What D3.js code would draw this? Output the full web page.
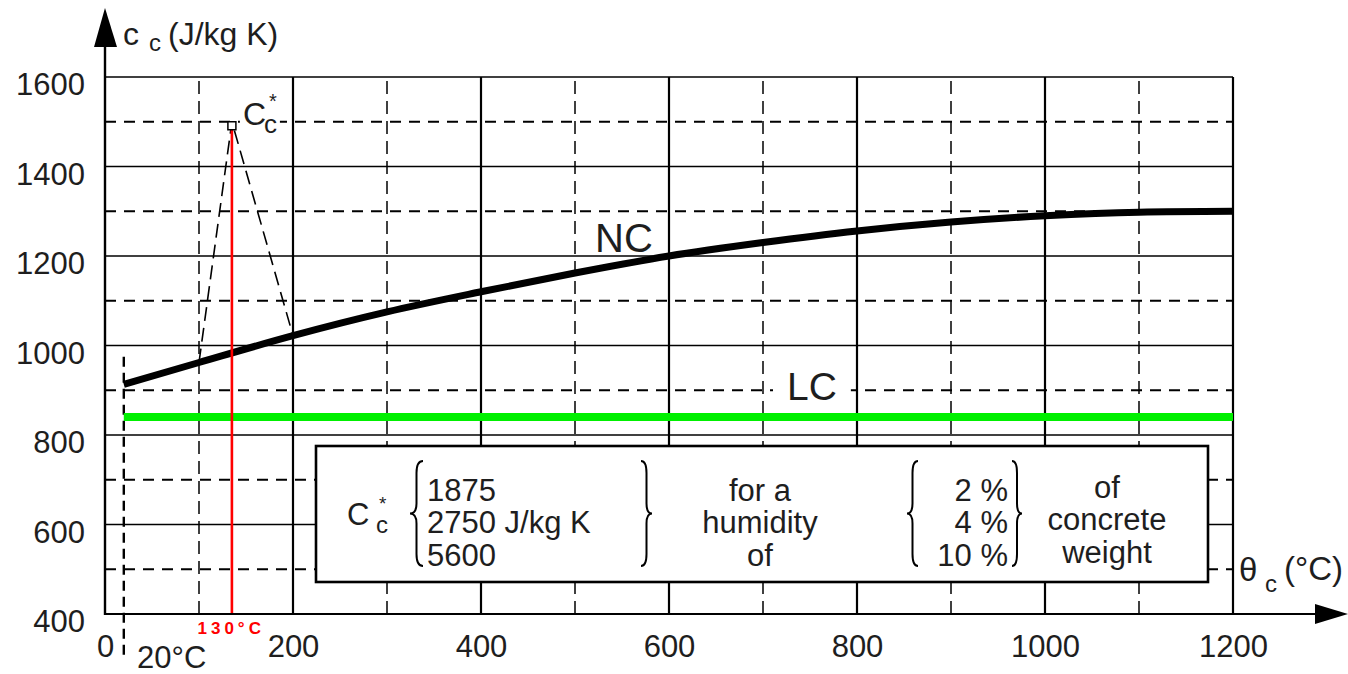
<!DOCTYPE html>
<html>
<head>
<meta charset="utf-8">
<script src="https://cdn.jsdelivr.net/npm/d3@7"></script>
<style>
  body { margin: 0; background: #fff; }
  text { font-family: "Liberation Sans", Arial, sans-serif; fill: #1e1e1e; }
</style>
</head>
<body>
<script>
// temperatures (°C) and specific heat (J/kg K)
const ncTemps = [20, 100, 200, 300, 400, 500, 600, 700, 800, 900, 1000, 1100, 1200];
const ncValues = [913, 962, 1022, 1075, 1120, 1162, 1200, 1230, 1256, 1276, 1290, 1298, 1300];
const lcTemps = [20, 1200];
const lcValues = [840, 840];
const peakTemps = [100, 135, 200];
const peakValues = [962, 1500, 1022];
const xTicks = [0, 200, 400, 600, 800, 1000, 1200];
const xMinor = [100, 300, 500, 700, 900, 1100];
const yTicks = [400, 600, 800, 1000, 1200, 1400, 1600];
const yMinor = [500, 700, 900, 1100, 1300, 1500];
const cStarValues = ["1875", "2750 J/kg K", "5600"];
const humidity = ["2 %", "4 %", "10 %"];

const w = 1348, h = 674;

const svg = d3.select("body").append("svg")
  .attr("width", w)
  .attr("height", h);

const x = d3.scaleLinear().domain([0, 1200]).range([105, 1233]);
const y = d3.scaleLinear().domain([400, 1600]).range([614, 77]);

// grid
const grid = svg.append("g");
grid.selectAll(".hs").data(yTicks.slice(1)).enter().append("line")
  .attr("x1", x(0)).attr("x2", x(1200))
  .attr("y1", d => y(d)).attr("y2", d => y(d))
  .attr("stroke", "#000").attr("stroke-width", 1.6);
grid.selectAll(".hd").data(yMinor).enter().append("line")
  .attr("x1", x(0)).attr("x2", x(1200))
  .attr("y1", d => y(d)).attr("y2", d => y(d))
  .attr("stroke", "#000").attr("stroke-width", 2.2)
  .attr("stroke-dasharray", "11,8");
grid.selectAll(".vs").data(xTicks.slice(1)).enter().append("line")
  .attr("x1", d => x(d)).attr("x2", d => x(d))
  .attr("y1", y(400)).attr("y2", y(1600))
  .attr("stroke", "#000").attr("stroke-width", 2.2);
grid.selectAll(".vd").data(xMinor).enter().append("line")
  .attr("x1", d => x(d)).attr("x2", d => x(d))
  .attr("y1", y(400)).attr("y2", y(1600))
  .attr("stroke", "#000").attr("stroke-width", 1.5)
  .attr("stroke-dasharray", "13,7");

// 20 °C marker
svg.append("line")
  .attr("x1", x(20)).attr("x2", x(20))
  .attr("y1", y(975)).attr("y2", y(400) + 46)
  .attr("stroke", "#000").attr("stroke-width", 2.4)
  .attr("stroke-dasharray", "10,6");

const line = d3.line().x(d => x(d[0])).y(d => y(d[1]));

// LC
svg.append("path")
  .datum(d3.zip(lcTemps, lcValues))
  .attr("d", line)
  .attr("fill", "none").attr("stroke", "#00f000").attr("stroke-width", 8);

// NC
svg.append("path")
  .datum(d3.zip(ncTemps, ncValues))
  .attr("d", d3.line().x(d => x(d[0])).y(d => y(d[1])).curve(d3.curveMonotoneX))
  .attr("fill", "none").attr("stroke", "#000").attr("stroke-width", 7);

// moisture peak
svg.append("path")
  .datum(d3.zip(peakTemps, peakValues))
  .attr("d", line)
  .attr("fill", "none").attr("stroke", "#000").attr("stroke-width", 1.6)
  .attr("stroke-dasharray", "14,7");

svg.append("line")
  .attr("x1", x(peakTemps[1])).attr("x2", x(peakTemps[1]))
  .attr("y1", y(400)).attr("y2", y(peakValues[1]))
  .attr("stroke", "#ff0000").attr("stroke-width", 2.6);

svg.append("rect")
  .attr("x", x(peakTemps[1]) - 4).attr("y", y(peakValues[1]))
  .attr("width", 8).attr("height", 8)
  .attr("fill", "#fff").attr("stroke", "#000").attr("stroke-width", 1.5);

// labels with a white patch behind them
function labelBg(t, px, py) {
  const b = t.node().getBBox();
  svg.insert("rect", () => t.node())
    .attr("x", b.x - px).attr("y", b.y + 4 - py)
    .attr("width", b.width + px * 2).attr("height", b.height - 8 + py * 2)
    .attr("fill", "#fff");
}

// Cc* label at peak
const px0 = x(peakTemps[1]) + 11, py0 = y(peakValues[1]) + 3;
const cs = svg.append("text").attr("x", px0).attr("y", py0).style("font-size", "32px");
cs.append("tspan").text("C");
cs.append("tspan").attr("x", px0 + 21).attr("y", py0 + 8).style("font-size", "26px").text("c");
cs.append("tspan").attr("x", px0 + 26).attr("y", py0 - 17).style("font-size", "20px").text("*");
labelBg(cs, 3, 0);

svg.append("text").attr("x", 595).attr("y", 252).style("font-size", "40px").text("NC");
const lcLabel = svg.append("text").attr("x", 787).attr("y", 400).style("font-size", "39px").text("LC");
labelBg(lcLabel, 14, 0);

// axes
const xAxis = d3.axisBottom(x).tickValues(xTicks).tickSize(0).tickPadding(21).tickFormat(d3.format("d"));
const yAxis = d3.axisLeft(y).tickValues(yTicks).tickSize(0).tickPadding(20).tickFormat(d3.format("d"));

const gx = svg.append("g").attr("transform", "translate(0," + y(400) + ")").call(xAxis);
const gy = svg.append("g").attr("transform", "translate(" + x(0) + ",0)").call(yAxis);
gx.select(".domain").remove();
gy.select(".domain").remove();
gx.selectAll("text").style("font-size", "31px").style("font-family", "Liberation Sans, Arial, sans-serif").attr("fill", "#1e1e1e");
gy.selectAll("text").style("font-size", "31px").style("font-family", "Liberation Sans, Arial, sans-serif").attr("fill", "#1e1e1e").attr("dy", "0.58em");

svg.append("line")
  .attr("x1", x(0)).attr("x2", 1318)
  .attr("y1", y(400)).attr("y2", y(400))
  .attr("stroke", "#000").attr("stroke-width", 2.2);
svg.append("line")
  .attr("x1", x(0)).attr("x2", x(0))
  .attr("y1", y(400) + 1).attr("y2", 44)
  .attr("stroke", "#000").attr("stroke-width", 2.4);
svg.append("path")
  .attr("d", "M" + x(0) + ",8 L94,47 L117,47 Z")
  .attr("fill", "#000");
svg.append("path")
  .attr("d", "M1348," + y(400) + " L1315," + (y(400) - 10) + " L1315," + (y(400) + 10) + " Z")
  .attr("fill", "#000");

svg.append("text").attr("x", 137).attr("y", 668).style("font-size", "31px").text("20°C");
svg.append("text")
  .attr("x", x(130) + 4).attr("y", 634)
  .attr("text-anchor", "middle")
  .style("font-size", "17px").style("font-weight", "bold")
  .style("letter-spacing", "4px")
  .style("fill", "#ff0000")
  .text("130°C");

// axis titles
const yt = svg.append("text").attr("x", 123).attr("y", 45).style("font-size", "32px");
yt.append("tspan").text("c");
yt.append("tspan").attr("x", 149).attr("y", 51).style("font-size", "24px").text("c");
yt.append("tspan").attr("x", 168).attr("y", 45).text("(J/kg K)");

const xt = svg.append("text").attr("x", 1239).attr("y", 581).style("font-size", "33px");
xt.append("tspan").text("θ");
xt.append("tspan").attr("x", 1265).attr("y", 592).style("font-size", "24px").text("c");
xt.append("tspan").attr("x", 1284).attr("y", 580).text("(°C)");

// legend box
const lg = svg.append("g");
lg.append("rect")
  .attr("x", 316).attr("y", 446).attr("width", 892).attr("height", 136)
  .attr("fill", "#fff").attr("stroke", "#000").attr("stroke-width", 2.6);

const lc = lg.append("text").attr("x", 347).attr("y", 525).style("font-size", "31px");
lc.append("tspan").text("C");
lc.append("tspan").attr("x", 376).attr("y", 533).style("font-size", "24px").text("c");
lc.append("tspan").attr("x", 379).attr("y", 510).style("font-size", "19px").text("*");

function brace(x0, x1, y0, y1, left) {
  const ym = (y0 + y1) / 2;
  const xm = (x0 + x1) / 2;
  const tip = left ? x0 : x1;
  const back = left ? x1 : x0;
  return "M" + back + "," + y0 +
    " Q" + xm + "," + y0 + " " + xm + "," + (y0 + 12) +
    " L" + xm + "," + (ym - 10) +
    " Q" + xm + "," + ym + " " + tip + "," + ym +
    " Q" + xm + "," + ym + " " + xm + "," + (ym + 10) +
    " L" + xm + "," + (y1 - 12) +
    " Q" + xm + "," + y1 + " " + back + "," + y1;
}
[[410, 423, true], [641, 652, false], [907, 918, true], [1012, 1022, false]].forEach(b => {
  lg.append("path")
    .attr("d", brace(b[0], b[1], 461, 566, b[2]))
    .attr("fill", "none").attr("stroke", "#000").attr("stroke-width", 2);
});

const lineY = [501, 533, 566];
lg.selectAll(".cv").data(cStarValues).enter().append("text")
  .attr("x", 427).attr("y", (d, i) => lineY[i])
  .style("font-size", "31px").text(d => d);
lg.selectAll(".fa").data(["for a", "humidity", "of"]).enter().append("text")
  .attr("x", 760).attr("y", (d, i) => lineY[i])
  .attr("text-anchor", "middle")
  .style("font-size", "31px").text(d => d);
lg.selectAll(".hu").data(humidity).enter().append("text")
  .attr("x", 1008).attr("y", (d, i) => lineY[i])
  .attr("text-anchor", "end")
  .style("font-size", "31px").text(d => d);
lg.selectAll(".cw").data(["of", "concrete", "weight"]).enter().append("text")
  .attr("x", 1107).attr("y", (d, i) => lineY[i] - 3)
  .attr("text-anchor", "middle")
  .style("font-size", "31px").text(d => d);
</script>
</body>
</html>
